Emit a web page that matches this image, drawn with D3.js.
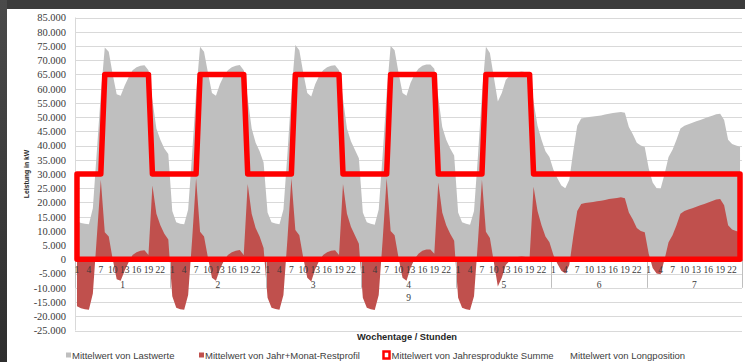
<!DOCTYPE html>
<html>
<head>
<meta charset="utf-8">
<script src="https://cdn.jsdelivr.net/npm/d3@7"></script>
<style>
  html, body { margin: 0; padding: 0; background: #3b3b3b; }
  svg { display: block; }
</style>
</head>
<body>
<svg id="chart" width="745" height="362"></svg>
<script>
// Category levels: month, weekday, hour of day
const monthLabel = "9";
const dayLabels = ["1", "2", "3", "4", "5", "6", "7"];
const hourLabels = d3.range(1, 25);
const hourTickLabels = [1, 4, 7, 10, 13, 16, 19, 22];
const yTickValues = d3.range(-25000, 85001, 5000);

// Mittelwert von Lastwerte (kW), one row per weekday, hours 1..24
const lastwerte = [
  13500, 12800, 12500, 12300, 18000, 38000, 58000, 74500, 73000, 65000, 58000, 57500, 61000, 64000, 66500, 67500, 68000, 68200, 66500, 56000, 46000, 42000, 39000, 37000,
  17000, 13000, 12500, 12300, 17500, 37000, 58500, 74700, 73000, 65500, 58500, 57500, 61500, 64500, 66500, 67500, 68000, 68300, 66500, 56500, 46000, 41000, 38000, 34000,
  16500, 13000, 12600, 12300, 17500, 37000, 58500, 75300, 73500, 65500, 58500, 57200, 61500, 64500, 66500, 67500, 68000, 68200, 66500, 56500, 46000, 41500, 38500, 35500,
  16500, 13000, 12500, 12200, 17500, 37000, 58500, 75000, 73500, 65500, 58500, 57500, 62000, 65000, 67000, 68000, 68500, 68500, 67000, 57000, 46500, 42000, 39000, 36500,
  16500, 13000, 12500, 12200, 17000, 36500, 58000, 74700, 72500, 64000, 55500, 58500, 63000, 64500, 65500, 65800, 66000, 65800, 65500, 55500, 47000, 42000, 38000, 36000,
  31500, 28500, 26000, 25000, 28000, 38000, 47000, 49500, 49800, 50000, 50200, 50400, 50600, 50900, 51200, 51400, 51600, 51800, 51500, 46500, 44000, 41000, 40000, 39500,
  32000, 27000, 25000, 24800, 30000, 36000, 38500, 42000, 46000, 47000, 47500, 48000, 48500, 49000, 49500, 50000, 50500, 51000, 51200, 49000, 42000, 40500, 40000, 39600
];

// Mittelwert von Jahr+Monat-Restprofil (kW)
const restprofil = [
  -16500, -17200, -17500, -17700, -12000, 8000, 28000, 9500, 8000, 0, -7000, -7500, -4000, -1000, 1500, 2500, 3000, 3200, 1500, 26000, 16000, 12000, 9000, 7000,
  -13000, -17000, -17500, -17700, -12500, 7000, 28500, 9700, 8000, 500, -6500, -7500, -3500, -500, 1500, 2500, 3000, 3300, 1500, 26500, 16000, 11000, 8000, 4000,
  -13500, -17000, -17400, -17700, -12500, 7000, 28500, 10300, 8500, 500, -6500, -7800, -3500, -500, 1500, 2500, 3000, 3200, 1500, 26500, 16000, 11500, 8500, 5500,
  -13500, -17000, -17500, -17800, -12500, 7000, 28500, 10000, 8500, 500, -6500, -7500, -3000, 0, 2000, 3000, 3500, 3500, 2000, 27000, 16500, 12000, 9000, 6500,
  -13500, -17000, -17500, -17800, -13000, 6500, 28000, 9700, 7500, -1000, -9500, -6500, -2000, -500, 500, 800, 1000, 800, 500, 25500, 17000, 12000, 8000, 6000,
  1500, -1500, -4000, -5000, -2000, 8000, 17000, 19500, 19800, 20000, 20200, 20400, 20600, 20900, 21200, 21400, 21600, 21800, 21500, 16500, 14000, 11000, 10000, 9500,
  2000, -3000, -5000, -5200, 0, 6000, 8500, 12000, 16000, 17000, 17500, 18000, 18500, 19000, 19500, 20000, 20500, 21000, 21200, 19000, 12000, 10500, 10000, 9600
];

// Mittelwert von Jahresprodukte Summe (kW): base and peak blocks
const jahresprodukte = [
  30000, 30000, 30000, 30000, 30000, 30000, 30000, 65000, 65000, 65000, 65000, 65000, 65000, 65000, 65000, 65000, 65000, 65000, 65000, 30000, 30000, 30000, 30000, 30000,
  30000, 30000, 30000, 30000, 30000, 30000, 30000, 65000, 65000, 65000, 65000, 65000, 65000, 65000, 65000, 65000, 65000, 65000, 65000, 30000, 30000, 30000, 30000, 30000,
  30000, 30000, 30000, 30000, 30000, 30000, 30000, 65000, 65000, 65000, 65000, 65000, 65000, 65000, 65000, 65000, 65000, 65000, 65000, 30000, 30000, 30000, 30000, 30000,
  30000, 30000, 30000, 30000, 30000, 30000, 30000, 65000, 65000, 65000, 65000, 65000, 65000, 65000, 65000, 65000, 65000, 65000, 65000, 30000, 30000, 30000, 30000, 30000,
  30000, 30000, 30000, 30000, 30000, 30000, 30000, 65000, 65000, 65000, 65000, 65000, 65000, 65000, 65000, 65000, 65000, 65000, 65000, 30000, 30000, 30000, 30000, 30000,
  30000, 30000, 30000, 30000, 30000, 30000, 30000, 30000, 30000, 30000, 30000, 30000, 30000, 30000, 30000, 30000, 30000, 30000, 30000, 30000, 30000, 30000, 30000, 30000,
  30000, 30000, 30000, 30000, 30000, 30000, 30000, 30000, 30000, 30000, 30000, 30000, 30000, 30000, 30000, 30000, 30000, 30000, 30000, 30000, 30000, 30000, 30000, 30000
];

const legendLabels = [
  "Mittelwert von Lastwerte",
  "Mittelwert von Jahr+Monat-Restprofil",
  "Mittelwert von Jahresprodukte Summe",
  "Mittelwert von Longposition"
];

const yTitle = "Leistung in kW";
const xTitle = "Wochentage / Stunden";

// ---- layout ----
const svg = d3.select("#chart");
const W = 745, H = 362;
const plot = { left: 75, right: 742, top: 17.5, bottom: 330.5 };

// panel background with a dark frame at top and left
const bgGrad = svg.append("defs").append("linearGradient")
  .attr("id", "leftEdge").attr("x1", 0).attr("x2", 0).attr("y1", 0).attr("y2", 1);
bgGrad.append("stop").attr("offset", "0%").attr("stop-color", "#4a4a4a");
bgGrad.append("stop").attr("offset", "100%").attr("stop-color", "#2e2e2e");
svg.append("rect").attr("x", 0).attr("y", 0).attr("width", W).attr("height", H).attr("fill", "#3b3b3b");
svg.append("rect").attr("x", 0).attr("y", 0).attr("width", 7).attr("height", H).attr("fill", "url(#leftEdge)");
svg.append("rect").attr("x", 7).attr("y", 9).attr("width", W - 7).attr("height", H - 9).attr("fill", "#ffffff");

// ---- scales ----
const keys = d3.range(lastwerte.length);
const x = d3.scaleBand().domain(keys).range([plot.left, plot.right]).paddingInner(0).paddingOuter(0);
const xc = i => x(i) + x.bandwidth() / 2;
const y = d3.scaleLinear().domain([-25000, 85000]).range([plot.bottom, plot.top]);

const de = d3.formatLocale({ decimal: ",", thousands: ".", grouping: [3], currency: ["", " €"], minus: "-" });
const fmt = de.format(",.0f");

// ---- gridlines ----
const grid = svg.append("g");
grid.selectAll("line").data(yTickValues).join("line")
  .attr("x1", plot.left).attr("x2", plot.right)
  .attr("y1", d => Math.round(y(d)) + 0.5).attr("y2", d => Math.round(y(d)) + 0.5)
  .attr("stroke", "#d9d9d9").attr("stroke-width", 1);
svg.append("line")
  .attr("x1", plot.left + 0.5).attr("x2", plot.left + 0.5)
  .attr("y1", plot.top).attr("y2", plot.bottom)
  .attr("stroke", "#d9d9d9");

// ---- y axis labels ----
const yAxis = d3.axisLeft(y).tickValues(yTickValues).tickFormat(fmt).tickSize(0).tickPadding(0);
const yg = svg.append("g").attr("transform", `translate(${plot.left - 9},0)`).call(yAxis);
yg.select(".domain").remove();
yg.selectAll("text")
  .attr("font-family", "'Liberation Serif', serif")
  .attr("font-size", "10.5px")
  .attr("fill", "#3a3a3a");

svg.append("text")
  .attr("transform", `translate(26,${(plot.top + plot.bottom) / 2}) rotate(-90)`)
  .attr("text-anchor", "middle").attr("dominant-baseline", "central")
  .attr("font-family", "'Liberation Sans', Arial, sans-serif")
  .attr("font-weight", "bold").attr("font-size", "6.8px").attr("fill", "#262626")
  .text(yTitle);

// ---- series ----
const area = d3.area().x((d, i) => xc(i)).y0(y(0)).y1(d => y(d)).curve(d3.curveLinear);

svg.append("path").datum(lastwerte).attr("d", area).attr("fill", "#bfbfbf");
svg.append("path").datum(restprofil).attr("d", area).attr("fill", "#c0504d");

// ---- category axis (multi-level) ----
const y0 = y(0);
const cat = svg.append("g");
const dayWidth = x.bandwidth() * 24;

// separators between weekdays
cat.selectAll("line.sep").data(d3.range(dayLabels.length + 1)).join("line")
  .attr("class", "sep")
  .attr("x1", d => Math.round(plot.left + d * dayWidth) + 0.5)
  .attr("x2", d => Math.round(plot.left + d * dayWidth) + 0.5)
  .attr("y1", y0).attr("y2", y(-10000))
  .attr("stroke", "#bfbfbf");

const hourTicks = [];
dayLabels.forEach((d, di) => hourTickLabels.forEach(h => hourTicks.push({ i: di * 24 + h - 1, h })));
cat.selectAll("text.hour").data(hourTicks).join("text")
  .attr("class", "hour")
  .attr("x", d => xc(d.i)).attr("y", y0 + 10.5)
  .attr("text-anchor", "middle").attr("dominant-baseline", "central")
  .attr("font-family", "'Liberation Serif', serif").attr("font-size", "9.5px").attr("fill", "#3a3a3a")
  .text(d => d.h);

cat.selectAll("text.day").data(dayLabels).join("text")
  .attr("class", "day")
  .attr("x", (d, i) => plot.left + (i + 0.5) * dayWidth).attr("y", y0 + 26)
  .attr("text-anchor", "middle").attr("dominant-baseline", "central")
  .attr("font-family", "'Liberation Serif', serif").attr("font-size", "9.5px").attr("fill", "#3a3a3a")
  .text(d => d);

cat.append("text")
  .attr("x", (plot.left + plot.right) / 2).attr("y", y0 + 39)
  .attr("text-anchor", "middle").attr("dominant-baseline", "central")
  .attr("font-family", "'Liberation Serif', serif").attr("font-size", "9.5px").attr("fill", "#3a3a3a")
  .text(monthLabel);

// Jahresprodukte as an unfilled area outline drawn on top
svg.append("path").datum(jahresprodukte).attr("d", area)
  .attr("fill", "none").attr("stroke", "#ff0000").attr("stroke-width", 5.5)
  .attr("stroke-linejoin", "round");

// ---- x axis title ----
svg.append("text")
  .attr("x", 407).attr("y", 337)
  .attr("text-anchor", "middle").attr("dominant-baseline", "central")
  .attr("font-family", "'Liberation Sans', Arial, sans-serif")
  .attr("font-weight", "bold").attr("font-size", "9.3px").attr("fill", "#262626")
  .text(xTitle);

// ---- legend ----
const legendItems = [
  { label: legendLabels[0], x: 66, kind: "small", color: "#bfbfbf" },
  { label: legendLabels[1], x: 199, kind: "small", color: "#c0504d" },
  { label: legendLabels[2], x: 382, kind: "outline", color: "#ff0000" },
  { label: legendLabels[3], x: 564, kind: "none", color: "none" }
];
const legendY = 355;
const lg = svg.append("g");
legendItems.forEach(it => {
  if (it.kind === "small") {
    lg.append("rect").attr("x", it.x).attr("y", legendY - 2.5).attr("width", 5).attr("height", 5).attr("fill", it.color);
  } else if (it.kind === "outline") {
    lg.append("rect").attr("x", it.x + 1.5).attr("y", legendY - 3.5).attr("width", 6).attr("height", 7)
      .attr("fill", "#ffffff").attr("stroke", it.color).attr("stroke-width", 2.5);
  }
  lg.append("text")
    .attr("x", it.kind === "outline" ? it.x + 9.5 : it.x + 6).attr("y", legendY)
    .attr("dominant-baseline", "central")
    .attr("font-family", "'Liberation Sans', Arial, sans-serif")
    .attr("font-size", "9.5px").attr("fill", "#404040")
    .text(it.label);
});
</script>
</body>
</html>
